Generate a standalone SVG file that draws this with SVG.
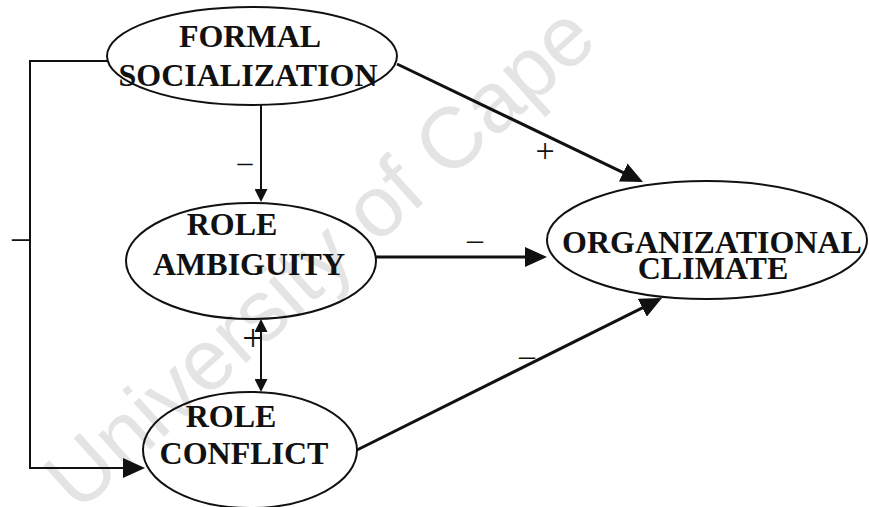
<svg xmlns="http://www.w3.org/2000/svg" width="869" height="507" viewBox="0 0 869 507">
  <style>
    .node ellipse { fill: none; stroke: #111; stroke-width: 2; }
    .node text { font-family: "Liberation Serif", "Times New Roman", serif; font-weight: bold; font-size: 32px; fill: #111; text-anchor: middle; }
    .edge { fill: none; stroke: #111; stroke-width: 3; }
    .edge.thin { stroke-width: 2; }
    .sign { font-family: "Liberation Serif", "Times New Roman", serif; fill: #111; text-anchor: middle; }
    .watermark { font-family: "Liberation Sans", Arial, sans-serif; font-size: 86px; fill: #e4e4e4; }
  </style>
  <defs>
    <marker id="head-lg" markerUnits="userSpaceOnUse" viewBox="0 0 22 20" markerWidth="22" markerHeight="20" refX="18" refY="10" orient="auto">
      <path d="M0,0 L22,10 L0,20 Z" fill="#111"/>
    </marker>
    <marker id="head-sm" markerUnits="userSpaceOnUse" viewBox="0 0 13 13" markerWidth="13" markerHeight="13" refX="10" refY="6.5" orient="auto-start-reverse">
      <path d="M0,0 L13,6.5 L0,13 Z" fill="#111"/>
    </marker>
  </defs>

  <rect width="869" height="507" fill="#fff"/>

  <!-- faint watermark behind the diagram -->
  <text class="watermark" transform="translate(78,514) rotate(-42)">University of Cape</text>

  <!-- connectors -->
  <g id="connectors">
    <line class="edge thin" x1="261" y1="105" x2="261" y2="199" marker-end="url(#head-sm)"/>
    <line class="edge" x1="397" y1="64" x2="639.4" y2="180.3" marker-end="url(#head-lg)"/>
    <line class="edge" x1="376" y1="257" x2="543" y2="257" marker-end="url(#head-lg)"/>
    <line class="edge" x1="357" y1="450" x2="658.4" y2="299.8" marker-end="url(#head-lg)"/>
    <polyline class="edge thin" points="108,61 30,61 30,468 141,468" marker-end="url(#head-lg)"/>
    <line class="edge thin" x1="261" y1="322" x2="261" y2="389" marker-start="url(#head-sm)" marker-end="url(#head-sm)"/>

    <!-- effect signs -->
    <text class="sign" x="21" y="249" font-size="36">–</text>
    <text class="sign" x="245" y="172" font-size="30">–</text>
    <text class="sign" x="545" y="162" font-size="34">+</text>
    <text class="sign" x="475" y="250" font-size="32">–</text>
    <text class="sign" x="253" y="351" font-size="38">+</text>
    <text class="sign" x="527" y="366" font-size="32">–</text>
  </g>

  <g id="formal-socialization" class="node">
    <ellipse cx="252" cy="56" rx="145" ry="49"/>
    <text x="250" y="47">FORMAL</text>
    <text x="248" y="86">SOCIALIZATION</text>
  </g>

  <g id="role-ambiguity" class="node">
    <ellipse cx="251" cy="261" rx="125" ry="58"/>
    <text x="232" y="235">ROLE</text>
    <text x="249" y="275">AMBIGUITY</text>
  </g>

  <g id="role-conflict" class="node">
    <ellipse cx="250" cy="450" rx="107" ry="58"/>
    <text x="231" y="427">ROLE</text>
    <text x="244" y="464">CONFLICT</text>
  </g>

  <g id="organizational-climate" class="node">
    <ellipse cx="707" cy="240" rx="160" ry="59"/>
    <text x="712" y="253">ORGANIZATIONAL</text>
    <text x="713" y="279">CLIMATE</text>
  </g>
</svg>
